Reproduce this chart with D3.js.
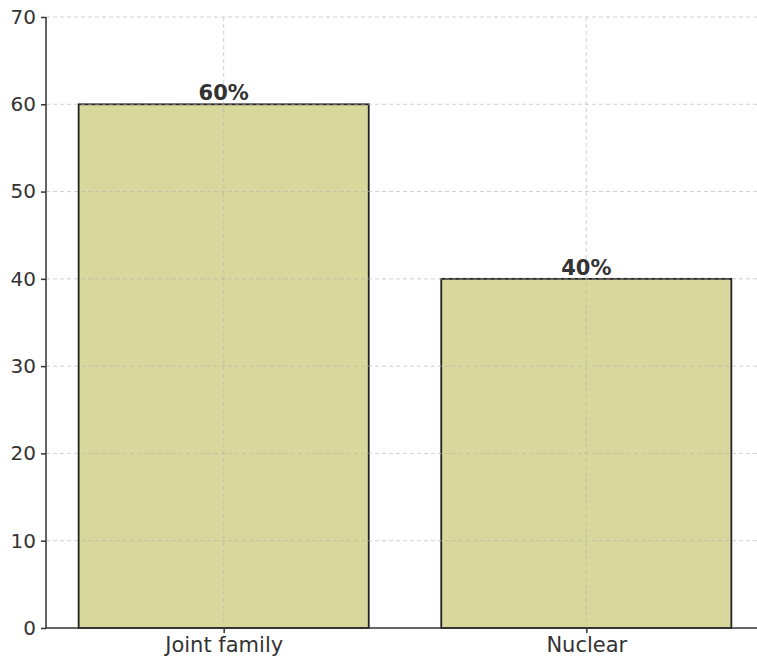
<!DOCTYPE html>
<html>
<head>
<meta charset="utf-8">
<script src="https://cdn.jsdelivr.net/npm/d3@7"></script>
<style>
  body { margin: 0; background: #fff; }
  svg { display: block; }
  .axis text { font-family: "DejaVu Sans", sans-serif; font-size: 20px; fill: #333; }
  .axis.x text { font-size: 21px; }
  .axis path, .axis line { stroke: #333; stroke-width: 1.5; }
</style>
</head>
<body>
<div class="chart"></div>
<script>
// family type data
let categories = ["Joint family", "Nuclear"];
let percents = [60, 40];
let yTicks = [0, 10, 20, 30, 40, 50, 60, 70];

let width = 757;
let height = 659;

let margin = {
	left: 46,
	top: 17,
	bottom: 31
};

let x = d3.scaleLinear()
	.domain([-0.49, 1.49])
	.range([margin.left, 764]);

let y = d3.scaleLinear()
	.domain([0, 70])
	.range([height - margin.bottom, margin.top]);

let barW = x(0.4) - x(0);

let svg = d3.select(".chart").append("svg")
	.attr("width", width)
	.attr("height", height);

// bars
svg.selectAll("rect.bar")
	.data(percents)
	.enter().append("rect")
	.attr("class", "bar")
	.attr("x", (d, i) => x(i) - barW)
	.attr("width", barW * 2)
	.attr("y", d => y(d))
	.attr("height", d => y(0) - y(d))
	.attr("fill", "#d8d89c")
	.attr("stroke", "#222")
	.attr("stroke-width", 1.8);

// grid on top of bars
let grid = svg.append("g").attr("class", "grid");
grid.selectAll("line.h")
	.data(yTicks.slice(1))
	.enter().append("line")
	.attr("x1", margin.left).attr("x2", width)
	.attr("y1", d => y(d)).attr("y2", d => y(d))
	.attr("stroke", "#b0b0b0")
	.attr("stroke-opacity", 0.6)
	.attr("stroke-dasharray", "4,3");
grid.selectAll("line.v")
	.data(categories)
	.enter().append("line")
	.attr("x1", (d, i) => x(i)).attr("x2", (d, i) => x(i))
	.attr("y1", y(70)).attr("y2", y(0))
	.attr("stroke", "#b0b0b0")
	.attr("stroke-opacity", 0.6)
	.attr("stroke-dasharray", "4,3");

// value labels
svg.selectAll("text.val")
	.data(percents)
	.enter().append("text")
	.attr("class", "val")
	.attr("x", (d, i) => x(i))
	.attr("y", d => y(d) - 4)
	.attr("text-anchor", "middle")
	.attr("font-family", "DejaVu Sans, sans-serif")
	.attr("font-weight", "bold")
	.attr("font-size", "21px")
	.attr("fill", "#333")
	.text(d => d + "%");

// axes
let yAxis = d3.axisLeft(y).tickValues(yTicks).tickSize(5).tickPadding(5);
svg.append("g")
	.attr("class", "axis y")
	.attr("transform", "translate(" + margin.left + ",0)")
	.call(yAxis)
	.call(g => g.select(".domain").attr("d", "M0," + y(0) + "V" + y(70)));

let xAxis = d3.axisBottom(x).tickValues([0, 1]).tickFormat(i => categories[i]).tickSize(5).tickPadding(4);
svg.append("g")
	.attr("class", "axis x")
	.attr("transform", "translate(0," + y(0) + ")")
	.call(xAxis)
	.call(g => g.select(".domain").attr("d", "M" + margin.left + ",0H" + width));
</script>
</body>
</html>
